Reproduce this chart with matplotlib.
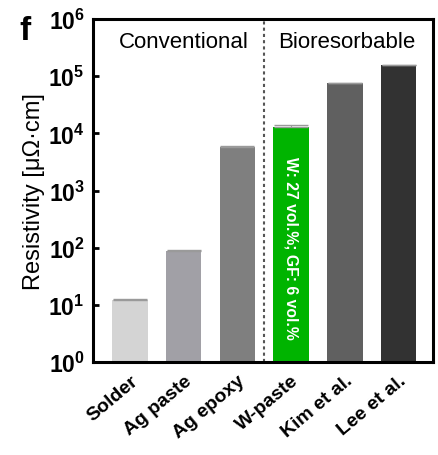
import matplotlib
matplotlib.use("Agg")
import matplotlib.pyplot as plt
import numpy as np

categories = ["Solder", "Ag paste", "Ag epoxy", "W-paste", "Kim et al.", "Lee et al."]
resistivity = [12, 89, 5800, 13000, 75000, 155000]
errors = [0.5, 3, 100, 800, 1000, 2000]
colors = ["#d4d4d4", "#a1a0a6", "#7f7f7f", "#00b400", "#606060", "#323232"]
ytick_exps = [0, 1, 2, 3, 4, 5, 6]

plt.rcParams['font.family'] = ['Liberation Sans', 'DejaVu Sans']
plt.rcParams['mathtext.fontset'] = 'custom'
plt.rcParams['mathtext.rm'] = 'Liberation Sans:bold'
plt.rcParams['mathtext.bf'] = 'Liberation Sans:bold'

fig = plt.figure(figsize=(4.38, 4.56), dpi=100)
ax = fig.add_axes([93/438, 1-363/456, 340/438, 343/456])

x = np.arange(len(categories))
ax.bar(x, resistivity, width=0.66, color=colors, edgecolor='none', zorder=2,
       yerr=[[0]*len(errors), errors], error_kw=dict(ecolor='#9a9a9a', capsize=12, elinewidth=0.8, capthick=1.0))

ax.set_yscale('log')
ax.set_ylim(1, 1e6)
ax.set_xlim(-0.69, 5.64)
ax.set_yticks([10.0**e for e in ytick_exps])
ax.set_yticklabels([r'$\mathbf{10^{%d}}$' % e for e in ytick_exps], fontsize=16.5)
ax.yaxis.set_minor_locator(matplotlib.ticker.NullLocator())
ax.tick_params(axis='y', direction='in', length=4, width=2, pad=6)
ax.tick_params(axis='x', length=0, pad=7)
ax.set_xticks(x)
ax.set_xticklabels(categories, rotation=40, ha='right', rotation_mode='anchor',
                   fontsize=14, fontweight='bold')
for s in ax.spines.values():
    s.set_linewidth(2.2)

ax.set_ylabel('Resistivity [μΩ·cm]', fontsize=17, labelpad=2)

ax.axvline(2.5, color='#555555', linestyle=(0, (1.5, 1.5)), linewidth=1.5, zorder=1)
ax.text(1.0, 0.935, 'Conventional', transform=ax.get_xaxis_transform(), ha='center', va='center', fontsize=16)
ax.text(4.03, 0.935, 'Bioresorbable', transform=ax.get_xaxis_transform(), ha='center', va='center', fontsize=16)

ax.text(3, 10**2.0, 'W: 27 vol.%; GF: 6 vol.%', rotation=-90, ha='center', va='center',
        color='white', fontsize=11.3, fontweight='bold', zorder=3)

fig.text(25/438, 1-32/456, 'f', fontsize=24, fontweight='bold', ha='center', va='center')

fig.savefig('out.png', dpi=100)
